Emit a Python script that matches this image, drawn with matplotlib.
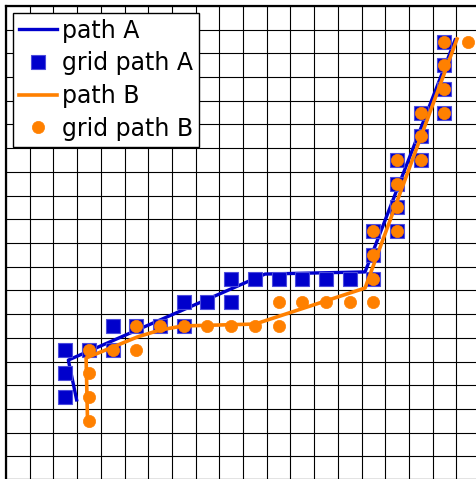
import matplotlib
matplotlib.use("Agg")
import matplotlib.pyplot as plt
import numpy as np

# continuous paths (grid units)
path_a_x = [2.98, 2.63, 10.93, 15.15, 18.95]
path_a_y = [3.38, 5.06, 8.69, 8.78, 18.57]

path_b_x = [3.44, 3.38, 4.51, 5.53, 6.50, 7.47, 10.51, 15.15, 19.03]
path_b_y = [2.49, 5.15, 5.61, 6.03, 6.33, 6.50, 6.58, 8.10, 18.61]

# grid cells visited by each path (column, row)
grid_a_col = [2, 2, 2, 3, 4, 4, 5, 6, 7, 7, 8, 9, 9, 10, 11, 12, 13, 14, 15,
              15, 15, 16, 16, 16, 16, 17, 17, 17, 18, 18, 18, 18]
grid_a_row = [3, 4, 5, 5, 5, 6, 6, 6, 6, 7, 7, 7, 8, 8, 8, 8, 8, 8, 8,
              9, 10, 10, 11, 12, 13, 13, 14, 15, 15, 16, 17, 18]

grid_b_col = [3, 3, 3, 3, 4, 5, 5, 6, 7, 8, 9, 10, 11, 11, 12, 13, 14, 15, 15,
              15, 15, 16, 16, 16, 16, 17, 17, 17, 18, 18, 18, 18, 19]
grid_b_row = [2, 3, 4, 5, 5, 5, 6, 6, 6, 6, 6, 6, 6, 7, 7, 7, 7, 7, 8,
              9, 10, 10, 11, 12, 13, 13, 14, 15, 15, 16, 17, 18, 18]

n_cells = 20
blue = "#0000cc"
orange = "#ff8000"

fig = plt.figure(figsize=(4.76, 4.79), dpi=100)
ax = fig.add_axes([6 / 476, -1 / 479, 474 / 476, 474 / 479])

ax.plot(path_a_x, path_a_y, color=blue, lw=2.4, label="path A")
ax.plot(np.array(grid_a_col) + 0.5, np.array(grid_a_row) + 0.5, "s", ms=10.3,
        color=blue, mec="#4c4cdd", mew=0.8, label="grid path A")
ax.plot(path_b_x, path_b_y, color=orange, lw=2.6, label="path B")
ax.plot(np.array(grid_b_col) + 0.5, np.array(grid_b_row) + 0.5, "o", ms=8.8,
        color=orange, mec=orange, mew=0.5, label="grid path B")

ax.set_xlim(0, n_cells)
ax.set_ylim(0, n_cells)
ax.set_xticks(range(n_cells + 1))
ax.set_yticks(range(n_cells + 1))
ax.tick_params(length=0, labelbottom=False, labelleft=False)
ax.grid(True, color="black", lw=0.8)
ax.set_axisbelow(True)
for sp in ax.spines.values():
    sp.set_linewidth(1.6)

leg = ax.legend(loc="upper left", fontsize=17, fancybox=False, framealpha=1,
                edgecolor="black", labelspacing=0.37, borderpad=0.25,
                handlelength=1.65, handletextpad=0.2, borderaxespad=0.28,
                numpoints=1)
leg.get_frame().set_linewidth(1.0)

fig.savefig("out.png", dpi=100)
